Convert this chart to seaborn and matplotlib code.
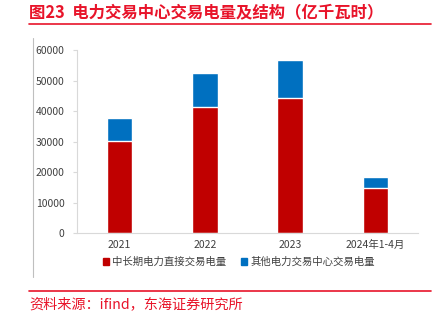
import matplotlib
matplotlib.use("Agg")
import matplotlib.pyplot as plt
import seaborn as sns
import pandas as pd
from matplotlib.lines import Line2D
from matplotlib.patches import Rectangle

sns.set_theme(style="white")
plt.rcParams['font.family'] = ['Noto Sans CJK SC', 'DejaVu Sans']

categories = ["2021", "2022", "2023", "2024年1-4月"]
long_term = [30300, 41400, 44300, 14700]
other = [7350, 11150, 12350, 3700]
series_names = ["中长期电力直接交易电量", "其他电力交易中心交易电量"]
colors = ["#C00000", "#0070C0"]
yticks = [0, 10000, 20000, 30000, 40000, 50000, 60000]

total = [a + b for a, b in zip(long_term, other)]
df_total = pd.DataFrame({"cat": categories, "v": total})
df_long = pd.DataFrame({"cat": categories, "v": long_term})

fig = plt.figure(figsize=(4.34, 3.22), dpi=100)
ax = fig.add_axes([0.1774, 0.2764, 0.7856, 0.5683])

sns.barplot(data=df_total, x="cat", y="v", color=colors[1], width=0.3,
            saturation=1, ax=ax)
sns.barplot(data=df_long, x="cat", y="v", color=colors[0], width=0.3,
            saturation=1, ax=ax)

ax.set_xlim(-0.5, 3.5)
ax.set_ylim(0, 60000)
ax.set_yticks(yticks)
ax.set_yticklabels([str(t) for t in yticks])
ax.set_xlabel("")
ax.set_ylabel("")
for s in ["top", "right"]:
    ax.spines[s].set_visible(False)
for s in ["left", "bottom"]:
    ax.spines[s].set_color("#D9D9D9")
    ax.spines[s].set_linewidth(0.8)
ax.set_xticks([-0.5, 0.5, 1.5, 2.5, 3.5], minor=False)
ax.set_xticklabels([])
ax.set_xticks([0, 1, 2, 3], minor=True)
ax.set_xticklabels(categories, minor=True)
ax.tick_params(axis="x", which="major", length=3, color="#D9D9D9", width=0.8)
ax.tick_params(axis="x", which="minor", length=0, pad=5, labelsize=7.5, labelcolor="#404040")
ax.tick_params(axis="y", length=3, color="#D9D9D9", width=0.8, pad=6,
               labelsize=7.5, labelcolor="#404040", left=True, direction="out")

handles = [Rectangle((0, 0), 1, 1, color=c) for c in colors]
fig.legend(handles, series_names, loc="center left", bbox_to_anchor=(0.215, 0.187),
           ncol=2, frameon=False, fontsize=7.5, handlelength=0.6, handleheight=0.6,
           handletextpad=0.3, columnspacing=1.4, labelcolor="#404040")

# Title and decoration
fig.text(29 / 434, 1 - 12 / 322, "图23  电力交易中心交易电量及结构（亿千瓦时）",
         color="#E8142A", fontsize=11.8, fontweight="bold", va="center", ha="left")
fig.add_artist(Line2D([29 / 434, 431 / 434], [1 - 23.5 / 322] * 2, color="#E8142A", lw=1.2))
fig.add_artist(Line2D([33 / 434] * 2, [1 - 38 / 322, 1 - 277 / 322], color="#BFBFBF", lw=0.8))
fig.add_artist(Line2D([29 / 434, 431 / 434], [1 - 291 / 322] * 2, color="#E8142A", lw=1.2))
fig.text(29 / 434, 1 - 304 / 322, "资料来源：ifind，东海证券研究所",
         color="#E8142A", fontsize=10.2, va="center", ha="left")

fig.savefig("out.png", dpi=100)
